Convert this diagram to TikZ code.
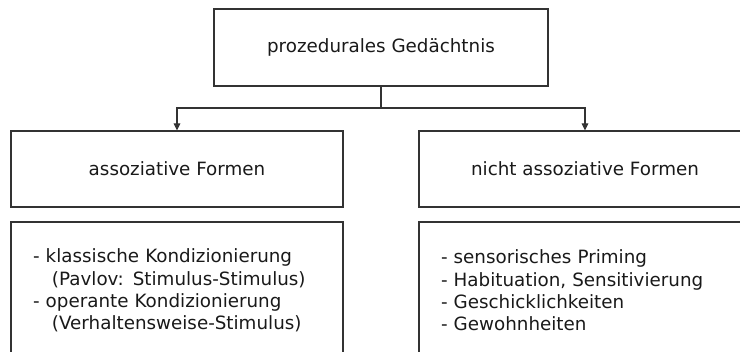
\documentclass[tikz,border=0pt]{standalone}
\usepackage{fontspec}
\setmainfont{DejaVu Sans}
\usetikzlibrary{arrows.meta,positioning}
\tikzset{
  box/.style={draw=black!80,line width=1.1pt,rectangle,inner sep=0pt,
    text=black!90,font=\fontsize{18.3}{22.3}\selectfont},
  headbox/.style={box,minimum width=332pt,minimum height=76pt},
  listbox/.style={box,align=left,text width=288pt,inner xsep=22pt,
    minimum height=137pt},
  branch/.style={draw=black!80,line width=1.1pt,-{Triangle[length=7pt,width=6.5pt]}}
}
\newcommand{\Einzug}{\hspace*{19pt}}

\begin{document}
\begin{tikzpicture}[x=1pt,y=-1pt]
  \useasboundingbox (0,0) rectangle (740,352);
  \clip (0,0) rectangle (740,352);
  % oben
  \node[box,minimum width=334pt,minimum height=77pt] (gedaechtnis) at (381,47.5) {prozedurales Ged\"achtnis};
  % zweite Ebene
  \node[headbox] (assoz) at (177,169) {assoziative Formen};
  \node[headbox] (nichtassoz) at (585,169) {nicht assoziative Formen};
  % Listen
  \node[listbox] (assozliste) at (177,290.5) {- klassische Kondizionierung\\
    \Einzug(Pavlov: Stimulus-Stimulus)\\
    - operante Kondizionierung\\
    \Einzug(Verhaltensweise-Stimulus)};
  \node[listbox] (nichtliste) at (585,290.5) {- sensorisches Priming\\
    - Habituation, Sensitivierung\\
    - Geschicklichkeiten\\
    - Gewohnheiten};
  % Verbindungen
  \coordinate (gabel) at (381,108);
  \draw[draw=black!80,line width=1.1pt] (gedaechtnis.south) -- (gabel);
  \draw[branch] (gabel) -| (assoz.north);
  \draw[branch] (gabel) -| (nichtassoz.north);
\end{tikzpicture}
\end{document}
